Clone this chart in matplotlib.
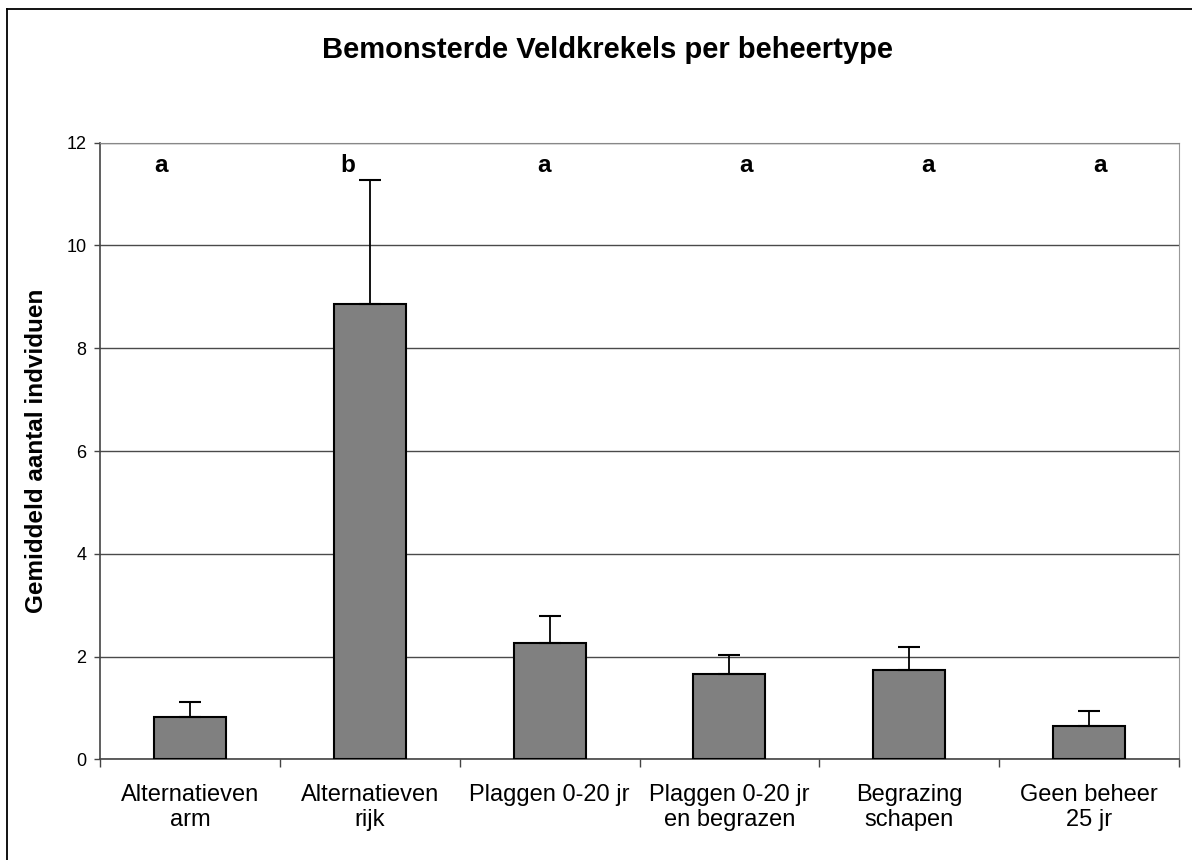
import matplotlib.pyplot as plt
from matplotlib.lines import Line2D
import numpy as np

categories = [
    "Alternatieven\narm",
    "Alternatieven\nrijk",
    "Plaggen 0-20 jr",
    "Plaggen 0-20 jr\nen begrazen",
    "Begrazing\nschapen",
    "Geen beheer\n25 jr",
]
means = [0.82, 8.86, 2.27, 1.66, 1.75, 0.66]
errors = [0.30, 2.41, 0.52, 0.37, 0.43, 0.29]
groups = ["a", "b", "a", "a", "a", "a"]
yticks = [0, 2, 4, 6, 8, 10, 12]

# the significance letters were placed by hand, not exactly over the bars
letter_shift = [-0.163, -0.123, -0.032, 0.092, 0.105, 0.062]

plt.rcParams["font.family"] = ["Liberation Sans", "DejaVu Sans"]

fig = plt.figure(figsize=(11.92, 8.6), dpi=100)
ax = fig.add_axes([0.0843, 0.1169, 0.9044, 0.7172])

x = np.arange(len(categories))
ax.bar(x, means, width=0.40, color="#808080", edgecolor="black",
       linewidth=1.5, zorder=3)
ax.errorbar(x, means, yerr=[np.zeros(len(errors)), errors], fmt="none",
            ecolor="black", elinewidth=1.3, capsize=8, capthick=1.5, zorder=4)

for xi, dx, g in zip(x, letter_shift, groups):
    ax.text(xi + dx, 11.42, g, ha="center", va="baseline", fontsize=17.5,
            fontweight="bold")

ax.set_xlim(-0.5, len(categories) - 0.5)
ax.set_ylim(0, 12)
ax.set_yticks(yticks)
ax.set_yticklabels([str(v) for v in yticks], fontsize=13)
ax.yaxis.grid(True, color="#4a4a4a", linewidth=1.0, zorder=0)

ax.set_xticks(x)
ax.set_xticklabels(categories, fontsize=17, linespacing=1.12)
ax.set_xticks(np.arange(len(categories) + 1) - 0.5, minor=True)
ax.tick_params(axis="x", which="major", length=0, pad=18)
ax.tick_params(axis="x", which="minor", length=6, direction="out",
               width=1.0, color="#444444")
ax.tick_params(axis="y", length=4, direction="out", width=1.0,
               color="#444444", pad=6)

for side in ["left", "bottom"]:
    ax.spines[side].set_color("#444444")
    ax.spines[side].set_linewidth(1.2)
ax.spines["right"].set_color("#999999")
ax.spines["top"].set_color("#888888")

fig.text(36.7 / 1192, 0.4756, "Gemiddeld aantal indviduen", rotation=90,
         ha="center", va="center", fontsize=17.5, fontweight="bold")
fig.text(0.51, 1 - 58.3 / 860, "Bemonsterde Veldkrekels per beheertype",
         ha="center", va="baseline", fontsize=21, fontweight="bold")

# chart frame, cut off at the right and bottom of the picture
fig.add_artist(Line2D([7.3 / 1192, 7.3 / 1192], [0, 1 - 9 / 860],
                      color="black", linewidth=1.3))
fig.add_artist(Line2D([7.3 / 1192, 1], [1 - 9 / 860, 1 - 9 / 860],
                      color="black", linewidth=1.3))

fig.savefig("out.png", dpi=100)
